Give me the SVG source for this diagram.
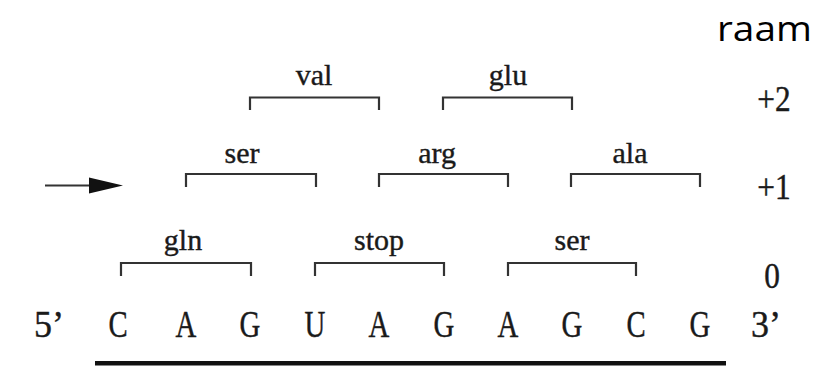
<svg xmlns="http://www.w3.org/2000/svg" width="832" height="369" viewBox="0 0 832 369">
  <style>
    .serif { font-family: "Liberation Serif", "Times New Roman", serif; fill: #1a1a1a; text-anchor: middle; stroke: #1a1a1a; stroke-width: 0.4; }
    .lbl { font-size: 30px; }
    .frame { font-size: 33px; }
    .base { font-size: 36px; }
    .codon { fill: none; stroke: #333; stroke-width: 2.2; }
    .title { font-family: "Open Sans", "Liberation Sans", sans-serif; font-size: 35px; fill: #000; }
  </style>
  <rect width="832" height="369" fill="#fff"/>

  <text class="title" x="717" y="41" textLength="95" lengthAdjust="spacingAndGlyphs">raam</text>

  <!-- reading frame +2 -->
  <g id="frame-plus2">
    <g id="val"><text class="serif lbl" transform="translate(314,85)">val</text><path class="codon" d="M250,110 V97.5 H379 V110"/></g>
    <g id="glu"><text class="serif lbl" transform="translate(508,85)">glu</text><path class="codon" d="M443,110 V97.5 H572 V110"/></g>
    <text class="serif frame" transform="translate(774,111) scale(0.95,1.08)">+2</text>
  </g>

  <!-- reading frame +1 -->
  <g id="frame-plus1">
    <g id="ser1"><text class="serif lbl" transform="translate(242,163)">ser</text><path class="codon" d="M186,187 V174 H316 V187"/></g>
    <g id="arg"><text class="serif lbl" transform="translate(437,163)">arg</text><path class="codon" d="M379,187 V174 H508 V187"/></g>
    <g id="ala"><text class="serif lbl" transform="translate(630,163)">ala</text><path class="codon" d="M571,187 V174 H700 V187"/></g>
    <text class="serif frame" transform="translate(774,199) scale(0.95,1.08)">+1</text>
  </g>

  <!-- reading frame 0 -->
  <g id="frame-0">
    <g id="gln"><text class="serif lbl" transform="translate(183,250)">gln</text><path class="codon" d="M121,276 V263 H251 V276"/></g>
    <g id="stop"><text class="serif lbl" transform="translate(379,250)">stop</text><path class="codon" d="M315,276 V263 H444 V276"/></g>
    <g id="ser0"><text class="serif lbl" transform="translate(572,250)">ser</text><path class="codon" d="M508,276 V263 H636 V276"/></g>
    <text class="serif frame" transform="translate(772,288) scale(0.95,1.08)">0</text>
  </g>

  <!-- direction arrow -->
  <g id="connectors">
    <line x1="45" y1="185.5" x2="92" y2="185.5" stroke="#333" stroke-width="2.2"/>
    <path d="M89,177.5 L123,185.5 L89,193.5 Z" fill="#111"/>
  </g>

  <!-- mRNA sequence -->
  <g id="sequence">
    <text class="serif base" transform="translate(49,337) scale(1,1.05)">5’</text>
    <text class="serif base" transform="translate(118,337) scale(0.8,1.05)">C</text>
    <text class="serif base" transform="translate(186,337) scale(0.8,1.05)">A</text>
    <text class="serif base" transform="translate(250,337) scale(0.8,1.05)">G</text>
    <text class="serif base" transform="translate(315,337) scale(0.8,1.05)">U</text>
    <text class="serif base" transform="translate(379,337) scale(0.8,1.05)">A</text>
    <text class="serif base" transform="translate(444,337) scale(0.8,1.05)">G</text>
    <text class="serif base" transform="translate(508,337) scale(0.8,1.05)">A</text>
    <text class="serif base" transform="translate(572,337) scale(0.8,1.05)">G</text>
    <text class="serif base" transform="translate(636,337) scale(0.8,1.05)">C</text>
    <text class="serif base" transform="translate(700,337) scale(0.8,1.05)">G</text>
    <text class="serif base" transform="translate(766,337) scale(1,1.05)">3’</text>
    <rect x="95" y="361" width="631" height="4.5" fill="#111"/>
  </g>
</svg>
